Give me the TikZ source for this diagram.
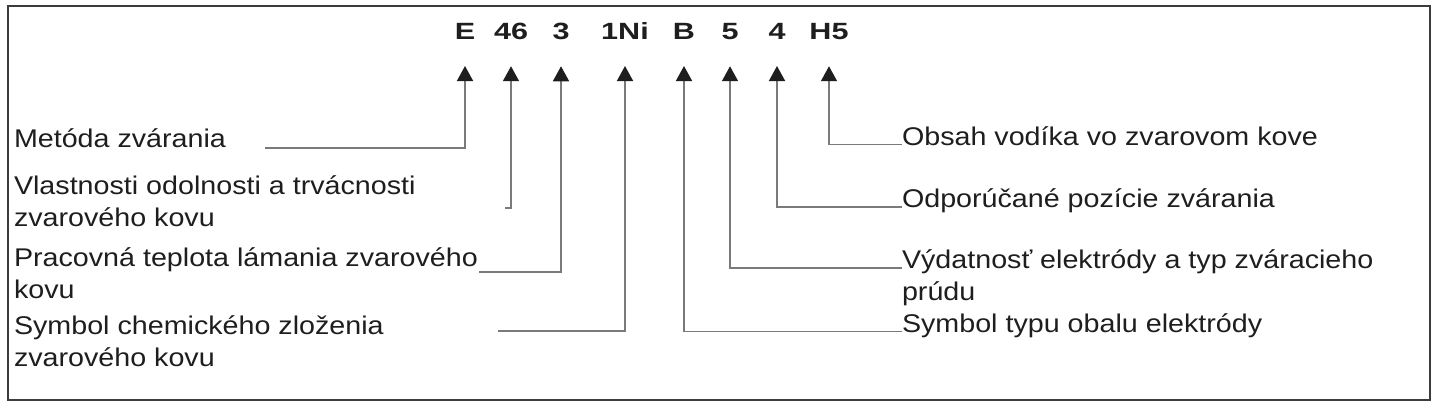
\documentclass[tikz,border=0pt]{standalone}
\usepackage{fontspec}
\setmainfont{Liberation Sans}[FakeStretch=1.12]
\newfontfamily\lblfont{Liberation Sans}[FakeStretch=1.3]
\usetikzlibrary{arrows.meta}
\definecolor{txt}{HTML}{1E1E1E}
\definecolor{ln}{HTML}{7A7A7A}
\definecolor{frm}{HTML}{3C3C3C}
\begin{document}
\begin{tikzpicture}[x=1pt,y=-1pt,
  lbl/.style={font=\lblfont\bfseries\fontsize{23.5}{28}\selectfont, text=txt, anchor=base, inner xsep=0pt, inner ysep=26pt, outer sep=0pt},
  desc/.style={font=\fontsize{25.6}{32}\selectfont, text=txt, anchor=base west, inner sep=0pt, outer sep=0pt},
  conn/.style={draw=ln, line width=1.6pt, -{Triangle[length=15pt,width=16pt,color=txt]}},
  ]
\useasboundingbox (0,0) rectangle (1434,404);
\draw[frm, line width=2pt] (8,6) rectangle (1430,400);

% code labels
\node[lbl] (lE)   at (465,40) {E};
\node[lbl] (l46)  at (511,40) {46};
\node[lbl] (l3)   at (561,40) {3};
\node[lbl] (l1Ni) at (625,40) {1Ni};
\node[lbl] (lB)   at (684,40) {B};
\node[lbl] (l5)   at (730,40) {5};
\node[lbl] (l4)   at (777,40) {4};
\node[lbl] (lH5)  at (829,40) {H5};

% left descriptions
\node[desc] (dE)   at (14,147) {Metóda zvárania};
\node[desc] (d46)  at (14,194) {\begin{tabular}[t]{@{}l@{}}Vlastnosti odolnosti a trvácnosti\\zvarového kovu\end{tabular}};
\node[desc] (d3)   at (14,266) {\begin{tabular}[t]{@{}l@{}}Pracovná teplota lámania zvarového\\kovu\end{tabular}};
\node[desc] (d1Ni) at (14,334) {\begin{tabular}[t]{@{}l@{}}Symbol chemického zloženia\\zvarového kovu\end{tabular}};

% right descriptions
\node[desc] (dH5) at (902,145) {Obsah vodíka vo zvarovom kove};
\node[desc] (d4)  at (902,207) {Odporúčané pozície zvárania};
\node[desc] (d5)  at (902,268) {\begin{tabular}[t]{@{}l@{}}Výdatnosť elektródy a typ zváracieho\\prúdu\end{tabular}};
\node[desc] (dB)  at (902,332) {Symbol typu obalu elektródy};

% left connector ends
\coordinate (eE)   at (265,148);
\coordinate (e46)  at (505,208);
\coordinate (e3)   at (479,272);
\coordinate (e1Ni) at (498,331);

\draw[conn] (eE) -| ([xshift=0pt]lE.south);
\draw[conn] (e46) -| (l46);
\draw[conn] (e3) -| (l3);
\draw[conn] (e1Ni) -| (l1Ni);

\draw[conn] ([yshift=0.5pt]dH5.base west) -| (lH5);
\draw[conn] (d4.base west) -| (l4);
\draw[conn] (d5.base west) -| (l5);
\draw[conn] ([yshift=0.5pt]dB.base west) -| (lB);
\end{tikzpicture}
\end{document}
